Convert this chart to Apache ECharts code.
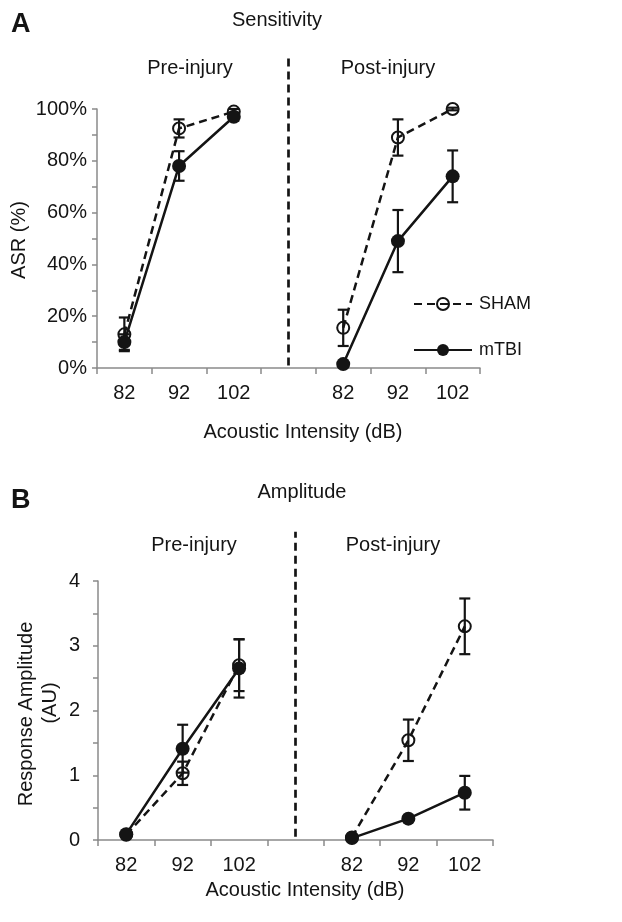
<!DOCTYPE html>
<html>
<head>
<meta charset="utf-8">
<script src="https://cdn.jsdelivr.net/npm/echarts@6/dist/echarts.min.js"></script>
<style>
  html, body { margin: 0; padding: 0; background: #fff; }
  #chart { width: 622px; height: 922px; }
</style>
</head>
<body>
<div id="chart"></div>
<script>
// x categories: pre-injury block, an empty slot for the divider, post-injury block
const categories = ['82', '92', '102', '', '82', '92', '102'];

// Panel A - sensitivity (% ASR)
const shamSensPre = [13, 92.5, 99];
const shamSensPreErr = [6.5, 3.5, 1];
const shamSensPost = [15.5, 89, 100];
const shamSensPostErr = [7, 7, 0.5];
const tbiSensPre = [10, 78, 97];
const tbiSensPreErr = [3, 5.7, 1.5];
const tbiSensPost = [1.5, 49, 74];
const tbiSensPostErr = [0.5, 12, 10];

// Panel B - response amplitude (AU)
const shamAmpPre = [0.08, 1.03, 2.70];
const shamAmpPreErr = [0.03, 0.18, 0.4];
const shamAmpPost = [0.04, 1.54, 3.30];
const shamAmpPostErr = [0.02, 0.32, 0.43];
const tbiAmpPre = [0.09, 1.41, 2.65];
const tbiAmpPreErr = [0.03, 0.37, 0.45];
const tbiAmpPost = [0.03, 0.33, 0.73];
const tbiAmpPostErr = [0.02, 0.04, 0.26];

// divider extents (value range on each y axis)
const dividerA = [1, 120];
const dividerB = [0.05, 4.76];

const INK = '#141414';
const AXIS = '#8a8a8a';
const FONT = "'Liberation Sans', Arial, sans-serif";

const joinBlocks = (pre, post) => [...pre, '-', ...post];
const errData = (pre, preErr, post, postErr) => {
    const out = [];
    pre.forEach((v, i) => out.push([i, v - preErr[i], v + preErr[i]]));
    post.forEach((v, i) => out.push([i + 4, v - postErr[i], v + postErr[i]]));
    return out;
};

function errorBars(idx, data) {
    return {
        type: 'custom',
        name: 'err',
        xAxisIndex: idx,
        yAxisIndex: idx,
        clip: false,
        z: 3,
        silent: true,
        encode: { x: 0, y: [1, 2] },
        data: data,
        renderItem(params, api) {
            const x = api.value(0);
            const lo = api.coord([x, api.value(1)]);
            const hi = api.coord([x, api.value(2)]);
            const cap = 5.5;
            const style = { stroke: INK, lineWidth: 2.2 };
            return {
                type: 'group',
                children: [
                    { type: 'line', shape: { x1: lo[0], y1: lo[1], x2: hi[0], y2: hi[1] }, style },
                    { type: 'line', shape: { x1: lo[0] - cap, y1: lo[1], x2: lo[0] + cap, y2: lo[1] }, style },
                    { type: 'line', shape: { x1: hi[0] - cap, y1: hi[1], x2: hi[0] + cap, y2: hi[1] }, style }
                ]
            };
        }
    };
}

function shamSeries(idx, data) {
    return {
        type: 'line', name: 'SHAM', xAxisIndex: idx, yAxisIndex: idx,
        data: data, clip: false, z: 4,
        symbol: 'circle', symbolSize: 12,
        itemStyle: { color: 'rgba(255,255,255,0)', borderColor: INK, borderWidth: 2 },
        lineStyle: { color: INK, width: 2.5, type: [8, 5] }
    };
}

function tbiSeries(idx, data) {
    return {
        type: 'line', name: 'mTBI', xAxisIndex: idx, yAxisIndex: idx,
        data: data, clip: false, z: 5,
        symbol: 'circle', symbolSize: 14,
        itemStyle: { color: INK, borderColor: INK, borderWidth: 0 },
        lineStyle: { color: INK, width: 2.5, type: 'solid' }
    };
}

function divider(idx, range) {
    return {
        type: 'line', name: 'divider', xAxisIndex: idx, yAxisIndex: idx,
        data: [[3, range[0]], [3, range[1]]], clip: false, silent: true,
        symbol: 'none',
        lineStyle: { color: INK, width: 2.7, type: [8, 5] }
    };
}

const xAxisBase = (gridIndex) => ({
    type: 'category',
    gridIndex,
    data: categories,
    boundaryGap: true,
    axisLine: { show: true, lineStyle: { color: AXIS, width: 1.5 } },
    axisTick: { show: true, length: 6, lineStyle: { color: AXIS, width: 1.5 } },
    axisLabel: { color: INK, fontSize: 20, fontFamily: FONT, margin: 15, interval: 0 },
    splitLine: { show: false }
});

const text = (t, x, y, size, extra) => ({
    type: 'text', x, y, silent: true,
    style: Object.assign({
        text: t, fill: INK, font: `${size}px ${FONT}`,
        textAlign: 'center', textVerticalAlign: 'middle'
    }, extra || {})
});

const chart = echarts.init(document.getElementById('chart'));
chart.setOption({
    animation: false,
    backgroundColor: '#fff',
    textStyle: { fontFamily: FONT },
    grid: [
        { left: 97, top: 109, width: 383, height: 259 },
        { left: 98, top: 581, width: 395, height: 259 }
    ],
    xAxis: [xAxisBase(0), xAxisBase(1)],
    yAxis: [
        {
            type: 'value', gridIndex: 0, min: 0, max: 100, interval: 10,
            axisLine: { show: true, lineStyle: { color: AXIS, width: 1.5 } },
            axisTick: { show: true, length: 5, lineStyle: { color: AXIS, width: 1.5 } },
            axisLabel: {
                color: INK, fontSize: 20, fontFamily: FONT, margin: 10,
                formatter: v => (v % 20 === 0 ? v + '%' : '')
            },
            splitLine: { show: false }
        },
        {
            type: 'value', gridIndex: 1, min: 0, max: 4, interval: 0.5,
            axisLine: { show: true, lineStyle: { color: AXIS, width: 1.5 } },
            axisTick: { show: true, length: 5, lineStyle: { color: AXIS, width: 1.5 } },
            axisLabel: {
                color: INK, fontSize: 20, fontFamily: FONT, margin: 18,
                formatter: v => (v % 1 === 0 ? String(v) : '')
            },
            splitLine: { show: false }
        }
    ],
    legend: {
        data: ['SHAM', 'mTBI'],
        orient: 'vertical',
        left: 408, top: 290,
        itemWidth: 58, itemHeight: 15, itemGap: 28,
        textStyle: { color: INK, fontSize: 18, fontFamily: FONT, padding: [0, 0, 0, 2] },
        selectedMode: false
    },
    graphic: [
        text('A', 11, 25, 27, { textAlign: 'left', font: `bold 27px ${FONT}` }),
        text('Sensitivity', 277, 20, 20),
        text('Pre-injury', 190, 68, 20),
        text('Post-injury', 388, 68, 20),
        Object.assign(text('ASR (%)', 19, 240, 20), { rotation: Math.PI / 2 }),
        text('Acoustic Intensity (dB)', 303, 432, 20),
        text('B', 11, 501, 27, { textAlign: 'left', font: `bold 27px ${FONT}` }),
        text('Amplitude', 302, 492, 20),
        text('Pre-injury', 194, 545, 20),
        text('Post-injury', 393, 545, 20),
        Object.assign(text('Response Amplitude', 26, 714, 20), { rotation: Math.PI / 2 }),
        Object.assign(text('(AU)', 50, 703, 20), { rotation: Math.PI / 2 }),
        text('Acoustic Intensity (dB)', 305, 890, 20)
    ],
    series: [
        divider(0, dividerA),
        errorBars(0, errData(shamSensPre, shamSensPreErr, shamSensPost, shamSensPostErr)),
        errorBars(0, errData(tbiSensPre, tbiSensPreErr, tbiSensPost, tbiSensPostErr)),
        shamSeries(0, joinBlocks(shamSensPre, shamSensPost)),
        tbiSeries(0, joinBlocks(tbiSensPre, tbiSensPost)),

        divider(1, dividerB),
        errorBars(1, errData(shamAmpPre, shamAmpPreErr, shamAmpPost, shamAmpPostErr)),
        errorBars(1, errData(tbiAmpPre, tbiAmpPreErr, tbiAmpPost, tbiAmpPostErr)),
        shamSeries(1, joinBlocks(shamAmpPre, shamAmpPost)),
        tbiSeries(1, joinBlocks(tbiAmpPre, tbiAmpPost))
    ]
});
</script>
</body>
</html>
